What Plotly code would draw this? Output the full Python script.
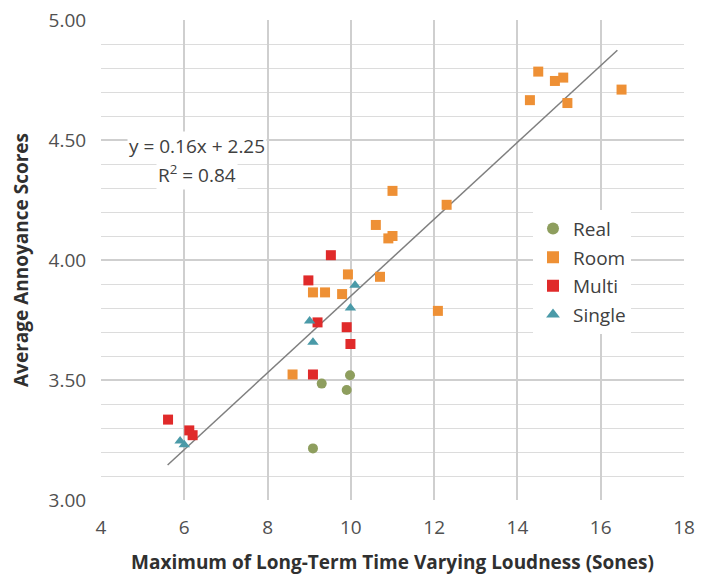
import plotly.graph_objects as go

real_x = [9.98, 9.3, 9.9, 9.09]
real_y = [3.52, 3.485, 3.458, 3.215]

room_x = [14.5, 14.9, 15.1, 14.3, 15.2, 16.5, 11.0, 12.3, 10.6, 10.9, 11.0, 9.93, 10.7, 9.09, 9.38, 9.79, 12.09, 8.6]
room_y = [4.785, 4.746, 4.76, 4.666, 4.654, 4.71, 4.288, 4.23, 4.146, 4.09, 4.10, 3.94, 3.93, 3.865, 3.865, 3.858, 3.788, 3.523]

multi_x = [9.52, 8.98, 9.2, 9.9, 9.99, 9.09, 5.61, 6.12, 6.2]
multi_y = [4.02, 3.915, 3.74, 3.72, 3.65, 3.523, 3.335, 3.29, 3.27]

single_x = [10.1, 9.99, 9.01, 9.09, 5.9, 6.0]
single_y = [3.895, 3.80, 3.746, 3.657, 3.246, 3.23]

slope, intercept = 0.16, 2.25
fit_x = [5.6, 16.4]
fit_y = [slope * v + intercept for v in fit_x]

FONT = "Open Sans"

fig = go.Figure()
fig.add_trace(go.Scatter(x=fit_x, y=fit_y, mode="lines", line=dict(color="#7f7f7f", width=1.5),
                         showlegend=False, hoverinfo="skip"))
fig.add_trace(go.Scatter(x=real_x, y=real_y, mode="markers", name="Real", legendgroup="a",
                         marker=dict(symbol="circle", size=10, color="#8e9e5e")))
fig.add_trace(go.Scatter(x=room_x, y=room_y, mode="markers", name="Room", legendgroup="b",
                         marker=dict(symbol="square", size=10, color="#ee9035")))
fig.add_trace(go.Scatter(x=multi_x, y=multi_y, mode="markers", name="Multi", legendgroup="c",
                         marker=dict(symbol="square", size=10, color="#e02a2a")))
fig.add_trace(go.Scatter(x=single_x, y=single_y, mode="markers", name="Single", legendgroup="d",
                         marker=dict(symbol="triangle-up", size=10, color="#4a9aa8")))

fig.add_annotation(xref="x", yref="y", x=6.3, y=4.475,
                   text="y = 0.16x + 2.25", showarrow=False,
                   font=dict(family=FONT, size=19, color="#404040"),
                   bgcolor="white", borderpad=1)
fig.add_annotation(xref="x", yref="y", x=6.3, y=4.36,
                   text="R<sup>2</sup> = 0.84", showarrow=False,
                   font=dict(family=FONT, size=19, color="#404040"),
                   bgcolor="white", borderpad=1)

fig.update_layout(
    width=708, height=580,
    margin=dict(l=93, r=32, t=12, b=88),
    plot_bgcolor="white", paper_bgcolor="white",
    font=dict(family=FONT, color="#404040"),
    legend=dict(x=0.741, y=0.605, xanchor="left", yanchor="top",
                bgcolor="white", font=dict(size=19, color="#404040"),
                itemsizing="constant", tracegroupgap=1, itemwidth=30),
    xaxis=dict(range=[4, 18], tickvals=[4, 6, 8, 10, 12, 14, 16, 18],
               showgrid=True, gridcolor="#cfcfcf", gridwidth=1.5,
               zeroline=False, showline=False, automargin=False,
               ticks="outside", ticklen=10, tickcolor="rgba(0,0,0,0)",
               ticklabeloverflow="allow",
               tickfont=dict(size=19, color="#505050"),
               title=dict(text="<b>Maximum of Long-Term Time Varying Loudness (Sones)</b>",
                          font=dict(size=19, color="#303030"), standoff=16)),
    yaxis=dict(range=[3.0, 5.0], tickvals=[3.0, 3.5, 4.0, 4.5, 5.0], tickformat=".2f",
               showgrid=True, gridcolor="#cfcfcf", gridwidth=1.5,
               minor=dict(dtick=0.1, showgrid=True, gridcolor="#dcdcdc", gridwidth=1),
               zeroline=False, showline=False, automargin=False,
               ticks="outside", ticklen=10, tickcolor="rgba(0,0,0,0)",
               ticklabeloverflow="allow",
               tickfont=dict(size=19, color="#505050"),
               title=dict(text="<b>Average Annoyance Scores</b>",
                          font=dict(size=19, color="#303030"), standoff=16)),
)

fig.write_html("out.html")
